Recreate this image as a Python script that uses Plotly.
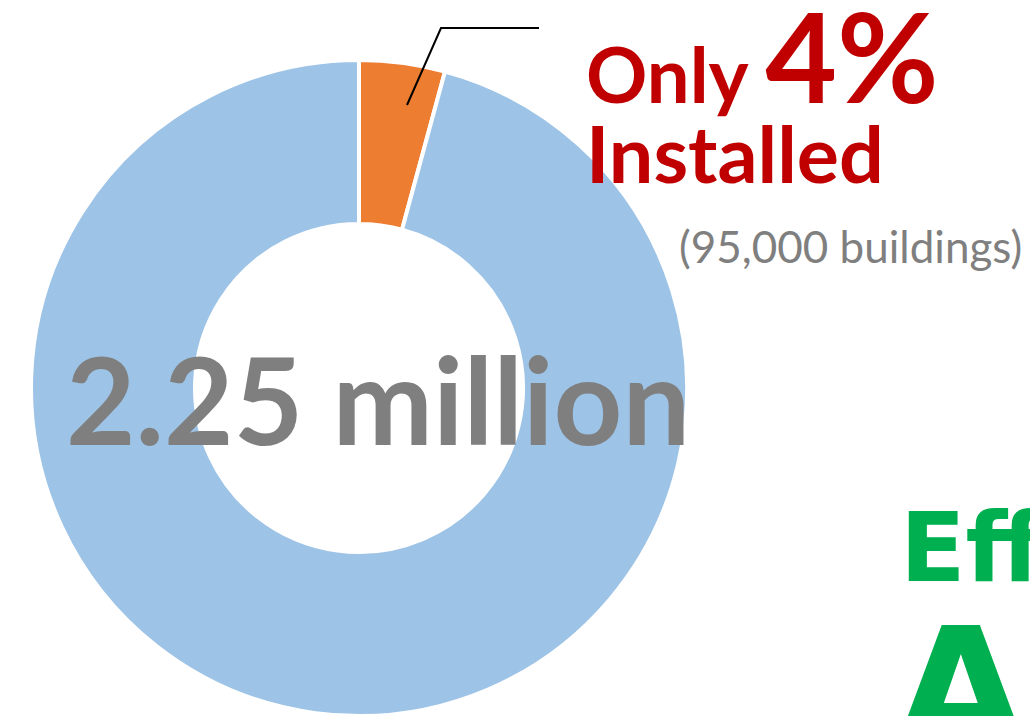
import plotly.graph_objects as go

# Data
labels = ["Installed", "Not installed"]
values = [95000, 2155000]
colors = ["#ED7D31", "#9DC3E6"]
center_label = "2.25 million"
headline_pre = "Only "
headline_pct = "4%"
headline_line2 = "Installed"
sub_label = "(95,000 buildings)"
side_word = "Efficient"
side_letter = "A"

W, H = 1030, 716

def px(x):
    return x / W

def py(y):
    return 1 - y / H

fig = go.Figure()
fig.add_trace(go.Pie(
    labels=labels,
    values=values,
    hole=0.5,
    sort=False,
    direction="clockwise",
    rotation=0,
    marker=dict(colors=colors, line=dict(color="white", width=4)),
    textinfo="none",
    hoverinfo="label+value+percent",
    showlegend=False,
    domain=dict(x=[px(359 - 328), px(359 + 328)], y=[py(716), py(60)]),
))

gray = "#7F7F7F"
red = "#C00000"
green = "#00B050"

annotations = [
    dict(text=f"<b>{headline_pre}<span style='font-size:124px'>{headline_pct}</span></b>",
         x=px(584), y=py(55), xanchor="left", yanchor="middle",
         font=dict(family="Lato", size=76, color=red)),
    dict(text=f"<b>{headline_line2}</b>",
         x=px(584), y=py(152), xanchor="left", yanchor="middle",
         font=dict(family="Lato", size=79, color=red)),
    dict(text=sub_label,
         x=px(1024), y=py(246), xanchor="right", yanchor="middle",
         font=dict(family="Lato", size=44, color=gray)),
    dict(text=f"<b>{center_label}</b>",
         x=px(378), y=py(399), xanchor="center", yanchor="middle",
         font=dict(family="Lato", size=120, color=gray)),
    dict(text=f"<b>{side_word}</b>",
         x=px(898), y=py(548), xanchor="left", yanchor="middle",
         font=dict(family="DejaVu Sans", size=96, color=green)),
    dict(text=f"<b>{side_letter}</b>",
         x=px(893), y=py(690), xanchor="left", yanchor="middle",
         font=dict(family="DejaVu Sans", size=170, color=green)),
]

for a in annotations:
    a.update(xref="paper", yref="paper", showarrow=False)

fig.update_layout(
    width=W, height=H,
    margin=dict(l=0, r=0, t=0, b=0),
    paper_bgcolor="white",
    plot_bgcolor="white",
    annotations=annotations,
    shapes=[dict(type="path", xref="paper", yref="paper",
                 path=f"M {px(407)} {py(105)} L {px(441)} {py(28)} L {px(539)} {py(28)}",
                 line=dict(color="black", width=2))],
)

fig.write_html("out.html",
               config={"displayModeBar": False},
               post_script="document.body.style.margin='0';document.body.style.overflow='hidden';")
